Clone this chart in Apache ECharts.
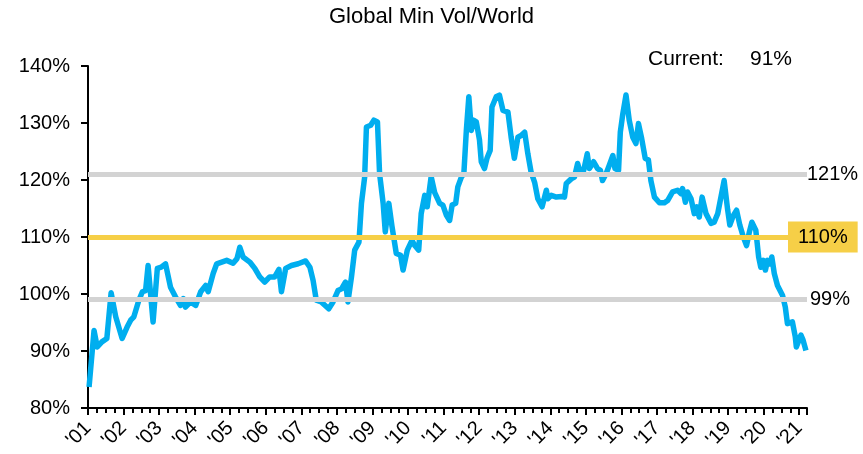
<!DOCTYPE html>
<html>
<head>
<meta charset="utf-8">
<title>Global Min Vol/World</title>
<script src="https://cdn.jsdelivr.net/npm/echarts@6/dist/echarts.min.js"></script>
<style>
  html, body { margin: 0; padding: 0; background: #fff; }
  #chart { width: 863px; height: 454px; }
</style>
</head>
<body>
<div id="chart"></div>
<script>
// relative performance, decimal year -> ratio in %
var years = [
  2001.03, 2001.17, 2001.26, 2001.39, 2001.53, 2001.65, 2001.78, 2001.96,
  2002.10, 2002.20, 2002.29, 2002.43, 2002.53, 2002.62, 2002.69, 2002.83, 2002.95,
  2003.06, 2003.18, 2003.32, 2003.46, 2003.60, 2003.68, 2003.74, 2003.88,
  2004.03, 2004.17, 2004.31, 2004.38, 2004.52, 2004.62, 2004.76, 2004.90,
  2005.08, 2005.19, 2005.27, 2005.36, 2005.55, 2005.69, 2005.83, 2005.97,
  2006.11, 2006.25, 2006.37, 2006.44, 2006.56, 2006.72, 2006.91,
  2007.12, 2007.24, 2007.33, 2007.42, 2007.56, 2007.77, 2007.89,
  2008.03, 2008.13, 2008.24, 2008.31, 2008.41, 2008.50, 2008.62, 2008.69, 2008.78, 2008.83, 2008.95,
  2009.04, 2009.14, 2009.20, 2009.30, 2009.36, 2009.46, 2009.55, 2009.67, 2009.79, 2009.86, 2009.98,
  2010.11, 2010.19, 2010.30, 2010.37, 2010.47, 2010.54, 2010.65, 2010.75, 2010.89, 2010.98,
  2011.08, 2011.17, 2011.24, 2011.34, 2011.40, 2011.50, 2011.57, 2011.64, 2011.71, 2011.78, 2011.84, 2011.92,
  2012.01, 2012.06, 2012.15, 2012.22, 2012.31, 2012.36, 2012.48, 2012.57, 2012.67, 2012.81, 2012.90, 2012.99,
  2013.09, 2013.18, 2013.28, 2013.37, 2013.46, 2013.56, 2013.65, 2013.77, 2013.89, 2013.93,
  2014.03, 2014.17, 2014.31, 2014.40, 2014.45, 2014.59, 2014.68, 2014.77, 2014.85, 2014.94,
  2015.04, 2015.10, 2015.22, 2015.33, 2015.41, 2015.47, 2015.57, 2015.66, 2015.76, 2015.82, 2015.92, 2015.97,
  2016.04, 2016.13, 2016.22, 2016.32, 2016.41, 2016.48, 2016.57, 2016.67, 2016.76, 2016.83, 2016.93,
  2017.07, 2017.21, 2017.30, 2017.44, 2017.58, 2017.68, 2017.72, 2017.80, 2017.86, 2017.96,
  2018.05, 2018.12, 2018.19, 2018.27, 2018.38, 2018.52, 2018.61, 2018.71, 2018.80, 2018.89, 2018.99,
  2019.05, 2019.15, 2019.24, 2019.33, 2019.43, 2019.52, 2019.60, 2019.67, 2019.78, 2019.86, 2019.92, 2019.99,
  2020.05, 2020.11, 2020.18, 2020.23, 2020.30, 2020.39, 2020.53, 2020.61, 2020.67, 2020.81, 2020.89, 2020.92,
  2021.05, 2021.11, 2021.19
];
var ratio = [
  83.7, 93.6, 90.7, 91.6, 92.2, 100.2, 96.0, 92.2,
  94.2, 95.4, 96.0, 98.9, 100.4, 100.6, 105.0, 95.1, 104.5,
  104.7, 105.3, 101.2, 99.5, 98.0, 99.2, 97.7, 98.6,
  98.0, 100.4, 101.5, 100.4, 103.6, 105.3, 105.6, 105.9,
  105.4, 106.2, 108.2, 106.5, 105.6, 104.5, 103.0, 102.1,
  103.0, 103.0, 104.3, 100.4, 104.5, 105.0, 105.3,
  105.8, 104.7, 102.4, 98.9, 98.6, 97.4, 98.6,
  100.6, 100.9, 102.1, 98.6, 103.0, 107.7, 109.1, 115.9, 120.5, 129.3, 129.6,
  130.5, 130.2, 121.1, 115.9, 110.9, 115.9, 111.8, 107.1, 106.8, 104.2, 107.7,
  109.4, 108.5, 107.7, 114.1, 117.3, 115.3, 120.6, 117.8, 115.9, 115.6,
  113.8, 112.9, 115.6, 115.9, 118.8, 120.5, 121.1, 128.7, 134.6, 128.7, 130.5, 130.2,
  127.0, 123.2, 122.0, 123.8, 125.2, 132.8, 134.6, 134.9, 132.2, 131.9, 127.5, 123.8,
  127.5, 127.8, 128.4, 124.6, 121.4, 119.6, 116.7, 115.3, 118.2, 116.7,
  117.3, 117.0, 117.1, 117.0, 119.4, 120.2, 120.5, 122.9, 121.1, 121.7,
  124.6, 122.0, 123.2, 122.0, 121.7, 119.9, 121.1, 122.6, 124.3, 122.0, 121.7, 128.4,
  131.6, 134.9, 130.5, 127.5, 126.4, 129.9, 127.3, 123.8, 123.5, 119.9, 117.0,
  116.0, 116.0, 116.4, 117.9, 118.2, 117.6, 118.5, 116.1, 117.9, 116.7,
  114.1, 115.3, 113.5, 117.0, 114.1, 112.4, 112.6, 114.1, 117.0, 119.9, 114.7,
  112.1, 113.8, 114.7, 112.1, 110.0, 108.5, 110.9, 112.6, 111.2, 106.5, 104.7, 105.9,
  104.2, 105.9, 105.3, 106.5, 103.6, 101.5, 99.8, 97.7, 94.8, 95.1, 92.5, 90.7,
  92.8, 91.9, 90.1
];
// reference levels: upper band, average, lower band
var levels = [121, 110, 99];
var levelNames = ['121%', '110%', '99%'];
var currentLabel = 'Current:';
var currentValue = '91%';

var font = 'Liberation Sans, Arial, sans-serif';
var chart = echarts.init(document.getElementById('chart'));

var lineData = years.map(function (y, i) { return [y, ratio[i]]; });

var option = {
  animation: false,
  textStyle: { fontFamily: font },
  title: [
    { text: 'Global Min Vol/World', left: 'center', top: 6, padding: 0,
      textStyle: { fontFamily: font, fontSize: 22, fontWeight: 'normal', color: '#000' } },
    { text: currentLabel, left: 648, top: 49, padding: 0,
      textStyle: { fontFamily: font, fontSize: 21, fontWeight: 'normal', color: '#000' } },
    { text: currentValue, left: 750, top: 49, padding: 0,
      textStyle: { fontFamily: font, fontSize: 21, fontWeight: 'normal', color: '#000' } }
  ],
  grid: { left: 88, right: 56, top: 66, bottom: 46 },
  xAxis: {
    type: 'value',
    min: 2001,
    max: 2021.22,
    interval: 1,
    axisLine: { lineStyle: { color: '#000', width: 2 } },
    axisTick: { length: 7, lineStyle: { color: '#000', width: 2 } },
    minorTick: { show: true, splitNumber: 4, length: 5, lineStyle: { color: '#000', width: 2 } },
    splitLine: { show: false },
    axisLabel: {
      rotate: 45, margin: 17, fontSize: 20, color: '#000', fontFamily: font,
      showMaxLabel: false,
      formatter: function (v) {
        if (Math.abs(v - Math.round(v)) > 0.001) return '';
        return "'" + String(Math.round(v)).slice(2);
      }
    }
  },
  yAxis: {
    type: 'value',
    min: 80,
    max: 140,
    interval: 10,
    axisLine: { show: true, lineStyle: { color: '#000', width: 2 } },
    axisTick: { show: true, length: 7, lineStyle: { color: '#000', width: 2 } },
    splitLine: { show: false },
    axisLabel: { margin: 18, fontSize: 20, color: '#000', fontFamily: font, formatter: '{value}%' }
  },
  series: [
    {
      type: 'line',
      data: [],
      z: 1,
      markLine: {
        silent: true,
        symbol: 'none',
        lineStyle: { width: 5, type: 'solid', color: '#d3d3d3' },
        label: { position: 'end', distance: 0, fontSize: 20, color: '#000', fontFamily: font },
        data: [
          { yAxis: levels[0], label: { formatter: levelNames[0] } },
          { yAxis: levels[1], lineStyle: { color: '#f6cf47' },
            label: { formatter: levelNames[1], backgroundColor: '#f6cf47', padding: [6, 10, 5, 10], distance: -19 } },
          { yAxis: levels[2], label: { formatter: levelNames[2], distance: 3 } }
        ]
      }
    },
    {
      type: 'line',
      data: lineData,
      z: 3,
      symbol: 'none',
      lineStyle: { color: '#00aeef', width: 5.5, join: 'round' }
    }
  ]
};

chart.setOption(option);
</script>
</body>
</html>
